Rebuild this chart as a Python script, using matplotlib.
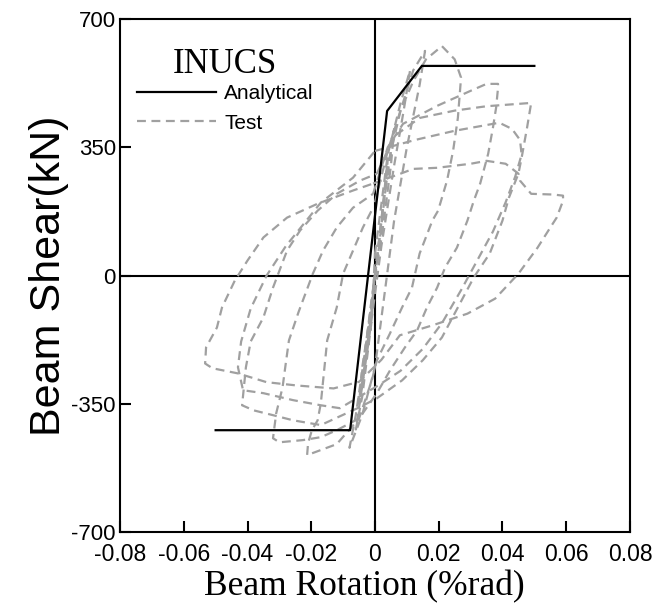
import matplotlib
matplotlib.use("Agg")
import matplotlib.pyplot as plt

# ---- analytical model (backbone) ----
ana_x = [-0.05, -0.0078, 0.0038, 0.0147, 0.05]
ana_y = [-422, -422, 449, 572, 572]

# ---- test hysteresis, one list pair per cycle ----
c0_x = [0.0, 0.002, 0.004, 0.0035, 0.001, -0.001, -0.003, -0.0045, -0.003, -0.001, 0.0]
c0_y = [0, 150, 320, 250, 60, -60, -200, -320, -230, -90, 0]

c1_x = [0.0, 0.003, 0.006, 0.005, 0.002, 0.0, -0.003, -0.005, -0.004, -0.001, 0.0]
c1_y = [0, 220, 400, 300, 100, 0, -220, -350, -250, -80, 0]

c1b_x = [0.0, 0.004, 0.008, 0.011, 0.009, 0.006, 0.002, -0.002, -0.006, -0.004, -0.001, 0.0]
c1b_y = [60, 330, 470, 560, 450, 300, 80, -180, -420, -330, -120, 60]

c2_x = [0.0, 0.004, 0.008, 0.012, 0.0157, 0.014, 0.010, 0.006, 0.003, 0.0, -0.004, -0.008, -0.006, -0.003, 0.0]
c2_y = [0, 300, 450, 560, 613, 520, 350, 150, -50, -250, -380, -470, -380, -200, 0]

c3_x = [0.0, 0.004, 0.008, 0.012, 0.016, 0.021, 0.025, 0.027, 0.026, 0.0245, 0.0226, 0.0198,
        0.018, 0.014, 0.0116, 0.0085, 0.0047, 0.0006, -0.001, -0.005, -0.012, -0.0213,
        -0.021, -0.0198, -0.018, -0.017, -0.015, -0.012, -0.010, -0.0069, -0.0038, -0.0006]
c3_y = [200, 340, 450, 530, 590, 626, 590, 540, 430, 340, 259, 177,
        150, 60, -33, -87, -158, -231, -286, -390, -460, -490,
        -458, -422, -395, -349, -177, -87, 5, 68, 131, 185]

c4_x = [-0.0006, 0.004, 0.0088, 0.0195, 0.030, 0.035, 0.0386, 0.0386, 0.038, 0.037, 0.0355,
        0.033, 0.031, 0.029, 0.0257, 0.022, 0.0195, 0.0163, 0.0132, 0.0094, 0.0047, 0.0006,
        -0.005, -0.012, -0.017, -0.0226, -0.030, -0.032, -0.031, -0.029, -0.028, -0.027,
        -0.024, -0.0195, -0.0163, -0.012, -0.0069, -0.0006]
c4_y = [223, 350, 414, 463, 504, 523, 523, 512, 458, 403, 332,
        251, 204, 150, 76, 22, -33, -87, -150, -196, -259, -321,
        -390, -422, -441, -449, -455, -444, -376, -305, -240, -177,
        -100, 5, 68, 131, 185, 223]

c5_x = [0.0006, 0.006, 0.014, 0.025, 0.035, 0.049, 0.0477, 0.046, 0.045, 0.042, 0.040, 0.036,
        0.031, 0.026, 0.021, 0.015, 0.0085, 0.0006, -0.005, -0.017, -0.0257, -0.032, -0.038,
        -0.0417, -0.0405, -0.039, -0.035, -0.032, -0.0276, -0.0235, -0.018, -0.012, -0.0047, 0.0006]
c5_y = [278, 380, 430, 450, 462, 471, 403, 321, 278, 212, 150, 60,
        -5, -87, -169, -231, -286, -335, -360, -408, -395, -381, -368,
        -354, -250, -180, -114, -33, 68, 123, 177, 223, 259, 278]

c6_x = [0.0, 0.0126, 0.025, 0.039, 0.043, 0.0455, 0.046, 0.044, 0.041, 0.037, 0.032, 0.027,
        0.021, 0.015, 0.008, 0.001, -0.011, -0.017, -0.0257, -0.035, -0.0414, -0.043, -0.042,
        -0.039, -0.034, -0.028, -0.017, -0.0069, 0.0]
c6_y = [340, 370, 395, 417, 400, 370, 330, 270, 200, 120, 40, -40,
        -130, -200, -260, -300, -362, -354, -340, -321, -313, -250, -180,
        -90, 0, 80, 199, 267, 340]

c7_x = [-0.0006, 0.008, 0.012, 0.0195, 0.030, 0.035, 0.041, 0.045, 0.0455, 0.049, 0.056, 0.059,
        0.059, 0.057, 0.055, 0.051, 0.045, 0.0377, 0.029, 0.018, 0.0078, 0.002, -0.005, -0.013,
        -0.0245, -0.034, -0.043, -0.051, -0.0533, -0.053, -0.0496, -0.048, -0.044, -0.040,
        -0.035, -0.0276, -0.018, -0.0069, -0.0006]
c7_y = [251, 278, 291, 294, 305, 313, 305, 278, 259, 223, 221, 218,
        204, 158, 131, 76, 5, -63, -104, -136, -163, -230, -290, -308,
        -300, -291, -267, -253, -240, -196, -142, -87, -14, 41,
        104, 158, 196, 232, 251]

cycles_x = [c0_x, c1_x, c1b_x, c2_x, c3_x, c4_x, c5_x, c6_x, c7_x]
cycles_y = [c0_y, c1_y, c1b_y, c2_y, c3_y, c4_y, c5_y, c6_y, c7_y]

xticks = [-0.08, -0.06, -0.04, -0.02, 0, 0.02, 0.04, 0.06, 0.08]
xtick_labels = ["-0.08", "-0.06", "-0.04", "-0.02", "0", "0.02", "0.04", "0.06", "0.08"]
yticks = [-700, -350, 0, 350, 700]
ytick_labels = ["-700", "-350", "0", "350", "700"]

sans = "Liberation Sans"
serif = "Liberation Serif"
grey = "#a0a0a0"

fig = plt.figure(figsize=(6.58, 6.13), dpi=100)
ax = fig.add_axes([0.1824, 0.132, 0.775, 0.837])

for i, (cx, cy) in enumerate(zip(cycles_x, cycles_y)):
    ax.plot(cx, cy, color=grey, lw=1.6, dashes=(4, 2.5),
            label="Test" if i == 0 else None, zorder=2)
ax.plot(ana_x, ana_y, color="black", lw=1.6, label="Analytical", zorder=3)

ax.axhline(0, color="black", lw=1.5, zorder=1)
ax.axvline(0, color="black", lw=1.5, zorder=1)

ax.set_xlim(-0.08, 0.08)
ax.set_ylim(-700, 700)
ax.set_xticks(xticks)
ax.set_xticklabels(xtick_labels, fontfamily=sans, fontsize=16.5)
ax.set_yticks(yticks)
ax.set_yticklabels(ytick_labels, fontfamily=sans, fontsize=16)
ax.tick_params(direction="in", length=8, width=1.5, top=False, right=False)
ax.tick_params(axis="x", pad=8)
ax.tick_params(axis="y", pad=3)
for s in ax.spines.values():
    s.set_linewidth(1.5)

ax.set_xlabel("Beam Rotation (%rad)", fontfamily=serif, fontsize=25.5)
ax.xaxis.set_label_coords(0.48, -0.075)
ax.set_ylabel("Beam Shear(kN)", fontfamily=sans, fontsize=31, labelpad=2)

handles, labels = ax.get_legend_handles_labels()
order = [labels.index("Analytical"), labels.index("Test")]
leg = ax.legend([handles[k] for k in order], [labels[k] for k in order],
                title="INUCS", loc="upper left", bbox_to_anchor=(0.0, 0.975),
                frameon=False, handlelength=3.8, handletextpad=0.4,
                labelspacing=0.5, borderaxespad=0.4,
                prop={"family": sans, "size": 15})
leg.get_title().set_fontfamily(serif)
leg.get_title().set_fontsize(25)
leg._legend_box.sep = 2

fig.savefig("out.png", dpi=100)
